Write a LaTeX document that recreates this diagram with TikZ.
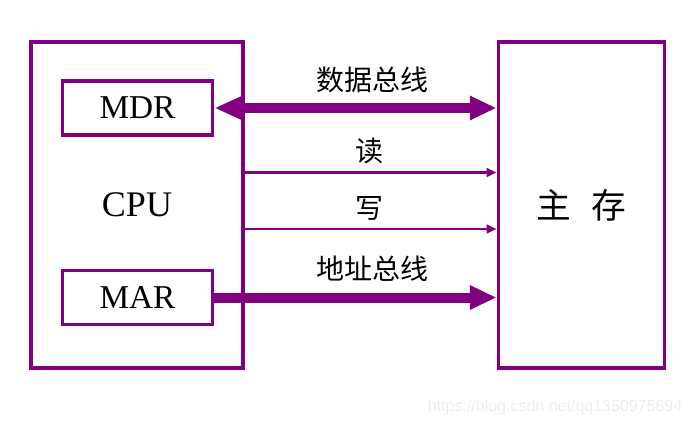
\documentclass[tikz,border=0pt]{standalone}
\usepackage{fontspec}
\setmainfont{Liberation Serif}
\newfontfamily\cjk{Noto Sans CJK SC}
\newfontfamily\wmfont{Liberation Sans}
\usepackage{tikz}
\usetikzlibrary{arrows.meta,positioning}
\definecolor{bus}{RGB}{128,0,128}

\begin{document}
\begin{tikzpicture}[x=0.75pt,y=-0.75pt,
    box/.style={draw=bus,line width=2.4pt,rectangle,inner sep=0pt},
    reg/.style={box,minimum width=113pt,minimum height=40.5pt,font=\fontsize{25}{25}\selectfont},
    busline/.style={draw=bus,line width=7.5pt,-{Triangle[length=20pt,width=17pt]}},
    ctrl/.style={draw=bus,line width=2.2pt,-{Triangle[length=7.5pt,width=6.5pt]}},
    lbl/.style={above,font=\cjk\fontsize{21}{21}\selectfont,inner sep=5pt}]
    \useasboundingbox (0,0) rectangle (695,425);
    \node[box,minimum width=159pt,minimum height=244.5pt,font=\fontsize{27}{27}\selectfont] (cpu) at (137,205) {CPU};
    \node[box,minimum width=125pt,minimum height=244.5pt,font=\cjk\fontsize{26}{26}\selectfont] (mem) at (581.5,205) {主\hspace{0.6em}存};
    \node[reg] (mdr) at (137.5,108) {MDR};
    \node[reg] (mar) at (137.5,297.5) {MAR};
    \coordinate (rd) at (243,172.5);
    \coordinate (wr) at (243,229);
    \path
        (mdr.east) edge[busline,{Triangle[length=20pt,width=16pt]}-{Triangle[length=20pt,width=17pt]}] node[lbl,pos=0.56,inner sep=8pt] {数据总线} (mdr.east -| mem.west)
        (rd) edge[ctrl] node[lbl] {读} (rd -| mem.west)
        (wr) edge[ctrl] node[lbl] {写} (wr -| mem.west)
        (mar.east) edge[busline] node[lbl,pos=0.56,inner sep=8pt] {地址总线} (mar.east -| mem.west);
    \node[text=black!7,font=\wmfont\fontsize{12}{12}\selectfont,anchor=east] (wm) at (687,407) {https://blog.csdn.net/qq1350975694};
\end{tikzpicture}
\end{document}
